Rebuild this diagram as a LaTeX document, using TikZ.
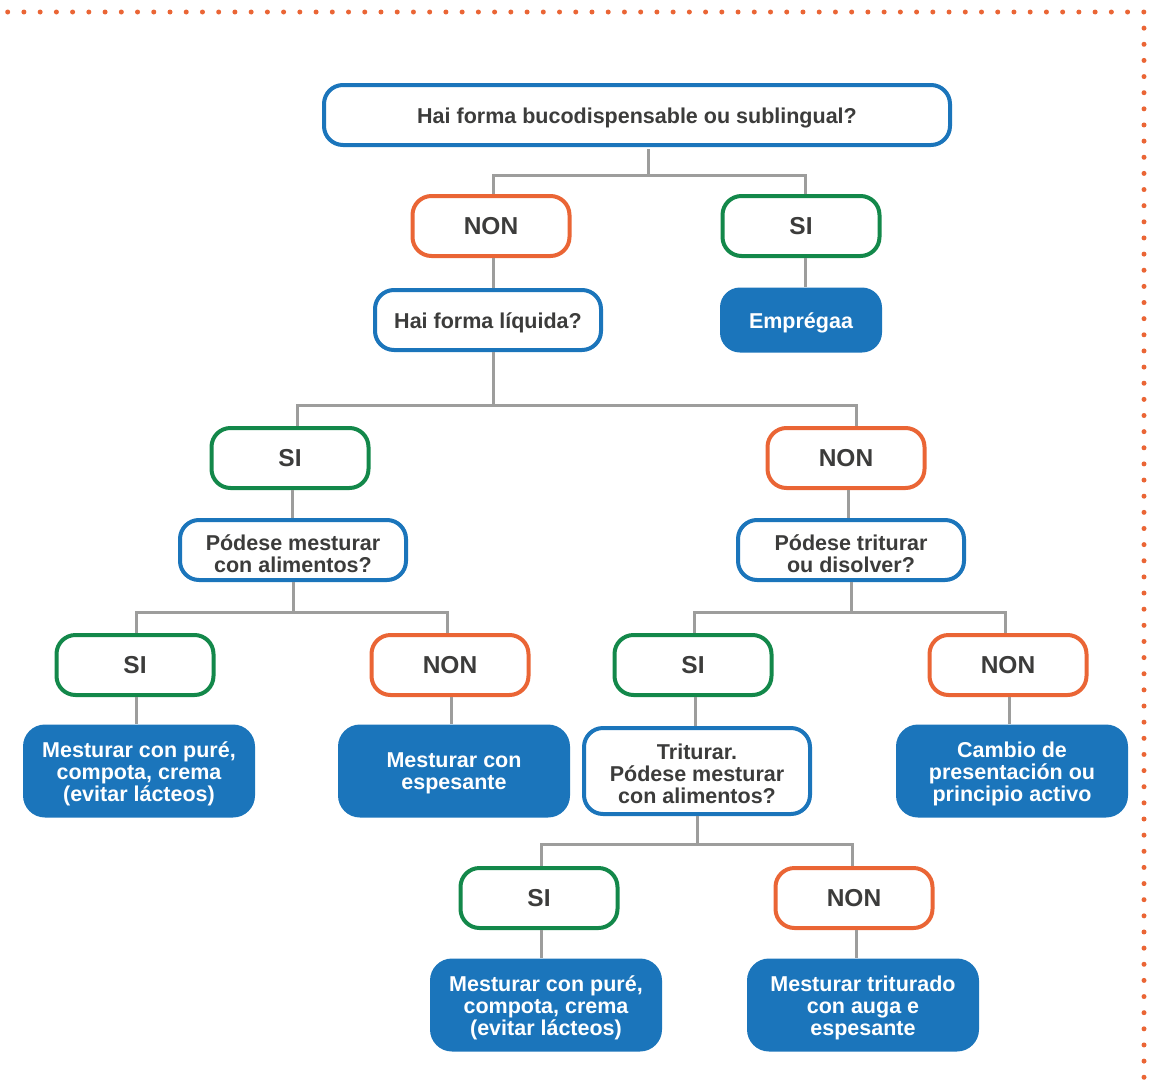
\documentclass[tikz,border=0pt]{standalone}
\usepackage{fontspec}
\setmainfont{Liberation Sans}
\usetikzlibrary{calc}
\definecolor{cblue}{HTML}{1B75BB}
\definecolor{corange}{HTML}{EA6535}
\definecolor{cgreen}{HTML}{13884A}
\definecolor{cgray}{HTML}{9D9D9C}
\definecolor{ctext}{HTML}{3C3C3B}
\begin{document}
\begin{tikzpicture}[x=1pt,y=-1pt,
  qbox/.style={draw=cblue,line width=4pt,rounded corners=19pt,fill=white,
    minimum width=226pt,minimum height=60pt,align=center,text=ctext,
    font=\fontsize{21.5pt}{22pt}\selectfont\bfseries,inner sep=0pt},
  nonbox/.style={draw=corange,line width=4pt,rounded corners=19pt,fill=white,
    minimum width=157pt,minimum height=60pt,text=ctext,
    font=\fontsize{24.5pt}{26pt}\selectfont\bfseries,inner sep=0pt},
  sibox/.style={nonbox,draw=cgreen},
  abox/.style={fill=cblue,rounded corners=22pt,minimum width=232pt,minimum height=93pt,
    align=center,text=white,font=\fontsize{21.5pt}{22pt}\selectfont\bfseries,inner sep=0pt},
  oneline/.style={execute at begin node={\rule{0pt}{22pt}}},
  lines/.style={text height=#1,text depth=0pt},
  conn/.style={draw=cgray,line width=3pt}]
\useasboundingbox (0,0) rectangle (1151,1084);
% dotted border
\foreach \i in {0,...,70} \fill[corange] (7.7+\i*16.23,12) circle (2.5pt);
\foreach \i in {1,...,66} \fill[corange] (1144,12+\i*16.14) circle (2.5pt);
% nodes
\node[qbox,oneline,minimum width=626pt] (top) at (637,115) {Hai forma bucodispensable ou sublingual?};
\node[nonbox] (non1) at (491,226) {NON};
\node[sibox] (si1) at (801,226) {SI};
\node[qbox,oneline] (liq) at (488,320) {Hai forma líquida?};
\node[abox,oneline,minimum width=162pt,minimum height=65pt,rounded corners=20pt] (emp) at (801,320) {Emprégaa};
\node[sibox] (si2) at (290,458) {SI};
\node[nonbox] (non2) at (846,458) {NON};
\node[qbox,lines=44pt] (mest) at (293,550) {Pódese mesturar\\con alimentos?};
\node[qbox,lines=44pt] (trit) at (851,550) {Pódese triturar\\ou disolver?};
\node[sibox] (si3) at (135,665) {SI};
\node[nonbox] (non3) at (450,665) {NON};
\node[sibox] (si4) at (693,665) {SI};
\node[nonbox] (non4) at (1008,665) {NON};
\node[abox,lines=61pt] (a1) at (139,771) {Mesturar con puré,\\compota, crema\\(evitar lácteos)};
\node[abox,lines=37pt] (a2) at (454,771) {Mesturar con\\espesante};
\node[qbox,lines=64pt,minimum height=86pt] (trit2) at (697,771) {Triturar.\\Pódese mesturar\\con alimentos?};
\node[abox,lines=61pt] (a3) at (1012,771) {Cambio de\\presentación ou\\principio activo};
\node[sibox] (si5) at (539,898) {SI};
\node[nonbox] (non5) at (854,898) {NON};
\node[abox,lines=61pt] (a4) at (546,1005) {Mesturar con puré,\\compota, crema\\(evitar lácteos)};
\node[abox,lines=61pt] (a5) at (863,1005) {Mesturar triturado\\con auga e\\espesante};
% connectors
\path[conn] ($(top.south)+(11,2)$) -- ++(0,26) coordinate (b1);
\path[conn] ([xshift=2pt]non1.north) |- (b1) -| ([xshift=4pt]si1.north);
\path[conn] ([xshift=2pt]non1.south) -- ([xshift=2pt]non1.south |- liq.north);
\path[conn] ([xshift=4pt]si1.south) -- ([xshift=4pt]si1.south |- emp.north);
\path[conn] ([xshift=5pt]liq.south) -- ++(0,53) coordinate (b2);
\path[conn] ([xshift=7pt]si2.north) |- (b2) -| ([xshift=10pt]non2.north);
\path[conn] ([xshift=2pt]si2.south) -- ([xshift=2pt]si2.south |- mest.north);
\path[conn] ([xshift=2pt]non2.south) -- ([xshift=2pt]non2.south |- trit.north);
\path[conn] (mest.south) -- ++(0,30) coordinate (b3);
\path[conn] ([xshift=1pt]si3.north) |- (b3) -| ([xshift=-3pt]non3.north);
\path[conn] (trit.south) -- ++(0,30) coordinate (b4);
\path[conn] ([xshift=1pt]si4.north) |- (b4) -| ([xshift=-3pt]non4.north);
\path[conn] ([xshift=1pt]si3.south) -- ([xshift=1pt]si3.south |- a1.north);
\path[conn] ([xshift=1pt]non3.south) -- ([xshift=1pt]non3.south |- a2.north);
\path[conn] ([xshift=2pt]si4.south) -- ([xshift=2pt]si4.south |- trit2.north);
\path[conn] ([xshift=1pt]non4.south) -- ([xshift=1pt]non4.south |- a3.north);
\path[conn] (trit2.south) -- ++(0,28) coordinate (b5);
\path[conn] ([xshift=2pt]si5.north) |- (b5) -| ([xshift=-2pt]non5.north);
\path[conn] ([xshift=2pt]si5.south) -- ([xshift=2pt]si5.south |- a4.north);
\path[conn] ([xshift=2pt]non5.south) -- ([xshift=2pt]non5.south |- a5.north);
\end{tikzpicture}
\end{document}
